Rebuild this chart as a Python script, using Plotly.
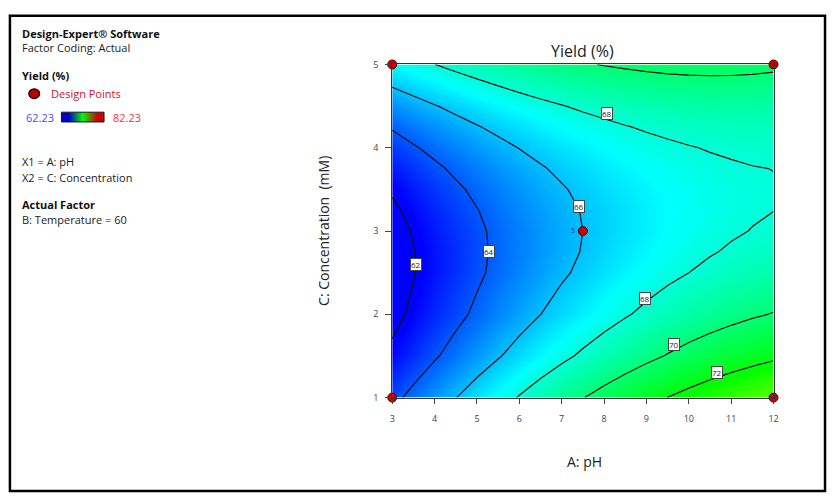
import plotly.graph_objects as go

# ---------------- data ----------------
ph_values = [3, 3.5, 4, 4.5, 5, 5.5, 6, 6.5, 7, 7.5, 8, 8.5, 9, 9.5, 10, 10.5, 11, 11.5, 12]
conc_values = [1, 1.5, 2, 2.5, 2.75, 3, 3.25, 3.5, 3.75, 4, 4.25, 4.5, 5]
yield_grid = [
    [63.59, 64.41, 65.20, 65.97, 66.71, 67.41, 68.09, 68.74, 69.36, 69.95, 70.51, 71.04, 71.54, 72.01, 72.45, 72.86, 73.25, 73.60, 73.93],
    [62.32, 63.09, 63.84, 64.55, 65.24, 65.89, 66.52, 67.12, 67.69, 68.22, 68.73, 69.21, 69.66, 70.08, 70.48, 70.84, 71.17, 71.47, 71.75],
    [61.55, 62.27, 62.96, 63.63, 64.26, 64.87, 65.44, 65.99, 66.51, 66.99, 67.45, 67.88, 68.28, 68.65, 68.99, 69.30, 69.58, 69.84, 70.06],
    [61.26, 61.93, 62.57, 63.19, 63.77, 64.33, 64.85, 65.35, 65.82, 66.25, 66.66, 67.04, 67.39, 67.71, 68.00, 68.26, 68.49, 68.69, 68.86],
    [61.30, 61.95, 62.57, 63.15, 63.71, 64.24, 64.74, 65.21, 65.65, 66.06, 66.45, 66.80, 67.12, 67.42, 67.68, 67.92, 68.12, 68.30, 68.45],
    [61.47, 62.09, 62.68, 63.24, 63.77, 64.28, 64.75, 65.20, 65.61, 66.00, 66.36, 66.69, 66.98, 67.25, 67.49, 67.70, 67.88, 68.03, 68.16],
    [61.75, 62.35, 62.91, 63.45, 63.96, 64.44, 64.89, 65.31, 65.70, 66.06, 66.39, 66.69, 66.97, 67.21, 67.42, 67.61, 67.76, 67.89, 67.99],
    [62.16, 62.73, 63.27, 63.78, 64.27, 64.72, 65.14, 65.54, 65.90, 66.24, 66.55, 66.82, 67.07, 67.29, 67.48, 67.64, 67.77, 67.87, 67.94],
    [62.69, 63.24, 63.75, 64.24, 64.70, 65.12, 65.52, 65.89, 66.23, 66.54, 66.82, 67.08, 67.30, 67.49, 67.65, 67.79, 67.89, 67.97, 68.01],
    [63.35, 63.87, 64.36, 64.82, 65.25, 65.65, 66.03, 66.37, 66.68, 66.97, 67.22, 67.45, 67.65, 67.81, 67.95, 68.06, 68.14, 68.19, 68.21],
    [64.12, 64.62, 65.08, 65.52, 65.92, 66.30, 66.65, 66.97, 67.26, 67.52, 67.75, 67.95, 68.12, 68.26, 68.37, 68.46, 68.51, 68.54, 68.53],
    [65.02, 65.49, 65.93, 66.34, 66.72, 67.07, 67.40, 67.69, 67.95, 68.19, 68.39, 68.57, 68.71, 68.83, 68.92, 68.98, 69.00, 69.00, 68.97],
    [67.19, 67.60, 67.99, 68.35, 68.68, 68.98, 69.26, 69.50, 69.71, 69.90, 70.05, 70.17, 70.27, 70.34, 70.37, 70.38, 70.36, 70.31, 70.23],
]
design_ph = [3, 12, 3, 12, 7.5]
design_conc = [1, 1, 5, 5, 3]
design_reps = ["", "", "", "", "5"]
label_values = ["62", "64", "66", "68", "68", "70", "72"]
label_ph = [3.57, 5.28, 7.41, 8.07, 8.97, 9.65, 10.66]
label_conc = [2.60, 2.75, 3.30, 4.41, 2.19, 1.64, 1.30]
yield_min, yield_max = 62.23, 82.23
x_ticks = [3, 4, 5, 6, 7, 8, 9, 10, 11, 12]
y_ticks = [1, 2, 3, 4, 5]

# ---------------- layout helpers ----------------
W, H = 833, 501
def px(x):
    return x / W
def py(y):
    return 1 - y / H

FONT = "Open Sans"
rainbow = [[0, "#0000ff"], [0.25, "#00ffff"], [0.5, "#00ff00"],
           [0.75, "#ffff00"], [1, "#ff0000"]]

fig = go.Figure()
fig.add_trace(go.Heatmap(
    x=ph_values, y=conc_values, z=yield_grid, zsmooth="best",
    colorscale=rainbow, zmin=yield_min, zmax=yield_max, showscale=False,
    hoverinfo="skip"))
fig.add_trace(go.Contour(
    x=ph_values, y=conc_values, z=yield_grid, showscale=False,
    contours=dict(coloring="none", start=62, end=72, size=2, showlabels=False),
    line=dict(color="#111111", width=1.2, smoothing=0), hoverinfo="skip"))
fig.add_trace(go.Scatter(
    x=design_ph, y=design_conc, mode="markers", cliponaxis=False,
    marker=dict(size=9, color="#cc0000", line=dict(color="#550000", width=1)),
    hoverinfo="skip", showlegend=False))

# legend gradient swatch
fig.add_trace(go.Heatmap(
    z=[[0, 0.5, 1]], xaxis="x2", yaxis="y2", zsmooth="best",
    colorscale=[[0, "#0000c8"], [0.5, "#00ff00"], [1, "#d00000"]],
    showscale=False, hoverinfo="skip"))

annotations = []
for t, xv, yv in zip(label_values, label_ph, label_conc):
    annotations.append(dict(x=xv, y=yv, xref="x", yref="y", text=t, showarrow=False,
                            font=dict(family=FONT, size=8, color="#222"),
                            bgcolor="white", bordercolor="#444", borderwidth=1, borderpad=0))
for t, xv, yv in zip(design_reps, design_ph, design_conc):
    if t:
        annotations.append(dict(x=xv, y=yv, xref="x", yref="y", text=t, showarrow=False,
                                xanchor="right", xshift=-6, yshift=1,
                                font=dict(family=FONT, size=7, color="#333")))

def txt(x, y, s, size=11, color="#222", bold=False, anchor="left"):
    annotations.append(dict(x=px(x), y=py(y), xref="paper", yref="paper",
                            text=f"<b>{s}</b>" if bold else s, showarrow=False,
                            xanchor=anchor, yanchor="middle",
                            font=dict(family=FONT, size=size, color=color)))

txt(17, 27, "Design-Expert® Software", 11, "#111", True)
txt(17, 42, "Factor Coding: Actual", 11, "#222")
txt(17, 70, "Yield (%)", 11, "#111", True)
txt(46, 89, "Design Points", 11, "#d0102a")
txt(21, 113, "62.23", 11, "#4a4aff")
txt(109, 113, "82.23", 11, "#ff3040")
txt(17, 159, "X1 = A: pH", 11, "#222")
txt(17, 175, "X2 = C: Concentration", 11, "#222")
txt(17, 203, "Actual Factor", 11, "#111", True)
txt(17, 218, "B: Temperature = 60", 11, "#222")
txt(585, 45, "Yield (%)", 16, "#222", anchor="center")
txt(587, 467, "A: pH", 14, "#222", anchor="center")
annotations.append(dict(x=px(323), y=py(230), xref="paper", yref="paper",
                        text="C: Concentration  (mM)", showarrow=False, textangle=-90,
                        font=dict(family=FONT, size=14, color="#222")))

shapes = [
    dict(type="rect", xref="paper", yref="paper", x0=px(7), x1=px(830), y0=py(497), y1=py(9),
         line=dict(color="#000", width=2.5)),
    dict(type="circle", xref="paper", yref="paper", x0=px(26), x1=px(37), y0=py(94), y1=py(84),
         fillcolor="#b00000", line=dict(color="#300000", width=1.2)),
    dict(type="rect", xref="paper", yref="paper", x0=px(59), x1=px(102), y0=py(118), y1=py(108),
         line=dict(color="#111", width=1)),
]

fig.update_layout(
    width=W, height=H, margin=dict(l=0, r=0, t=0, b=0),
    paper_bgcolor="white", plot_bgcolor="white", showlegend=False,
    font=dict(family=FONT),
    xaxis=dict(domain=[px(393), px(778)], range=[3, 12], tickvals=x_ticks,
               ticks="outside", ticklen=5, tickcolor="#444", showgrid=False, zeroline=False,
               showline=True, mirror=True, linecolor="#333", linewidth=1, ticklabelstandoff=8,
               tickfont=dict(family=FONT, size=9, color="#444")),
    yaxis=dict(domain=[py(401), py(59)], range=[1, 5], tickvals=y_ticks,
               ticks="outside", ticklen=6, tickcolor="#444", showgrid=False, zeroline=False,
               showline=True, mirror=True, linecolor="#333", linewidth=1, ticklabelstandoff=5,
               tickfont=dict(family=FONT, size=9, color="#444")),
    xaxis2=dict(domain=[px(59), px(102)], anchor="y2", visible=False, range=[-0.5, 2.5]),
    yaxis2=dict(domain=[py(118), py(108)], anchor="x2", visible=False, range=[-0.5, 0.5]),
    annotations=annotations, shapes=shapes,
)

fig.write_html("out.html")
